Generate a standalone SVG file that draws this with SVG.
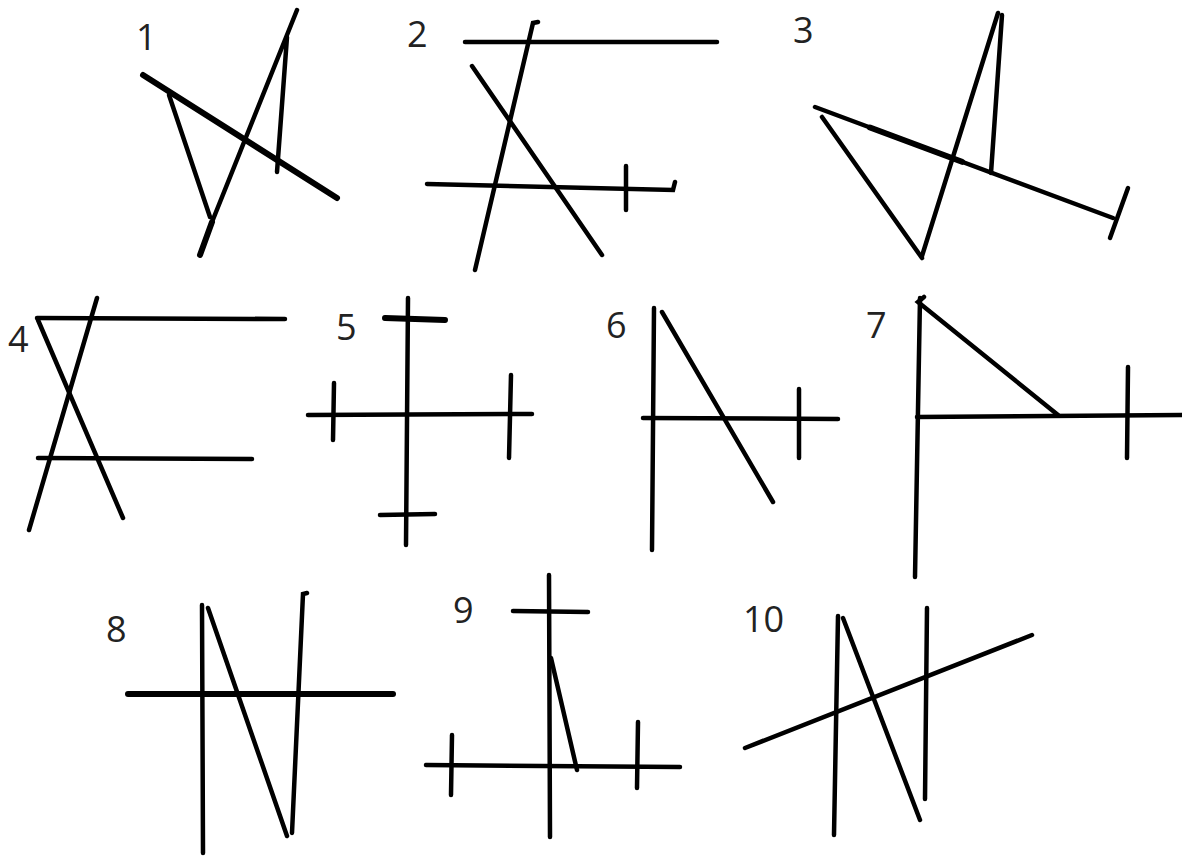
<svg xmlns="http://www.w3.org/2000/svg" width="1182" height="856" viewBox="0 0 1182 856">
<style>
.s{stroke:#000;stroke-width:4.5;stroke-linecap:round;fill:none}
.t{stroke-width:6}
.lbl{font-family:"Open Sans","Liberation Sans",sans-serif;font-size:36px;fill:#222}
</style>
<rect width="1182" height="856" fill="#fff"/>
<g id="fig1">
<text class="lbl" x="136" y="50">1</text>
<line class="s t" x1="143" y1="75" x2="337" y2="198"/>
<line class="s" x1="169" y1="95" x2="210" y2="217"/>
<line class="s" x1="297" y1="10" x2="212" y2="222"/>
<line class="s t" x1="212" y1="222" x2="200" y2="255"/>
<line class="s" x1="287" y1="37" x2="277" y2="172"/>
</g>
<g id="fig2">
<text class="lbl" x="407" y="47">2</text>
<line class="s" x1="465" y1="42" x2="717" y2="42"/>
<polyline class="s" points="538,22 533,23 475,270"/>
<line class="s" x1="472" y1="66" x2="602" y2="255"/>
<polyline class="s" points="427,184 673,190 675,182"/>
<line class="s" x1="626" y1="166" x2="626" y2="210"/>
</g>
<g id="fig3">
<text class="lbl" x="793" y="43">3</text>
<line class="s" x1="815" y1="107" x2="1113" y2="218"/>
<line class="s t" x1="870" y1="127.5" x2="962" y2="161.8"/>
<line class="s" x1="1128" y1="188" x2="1110" y2="238"/>
<line class="s" x1="822" y1="117" x2="922" y2="258"/>
<line class="s" x1="922" y1="256" x2="998" y2="13"/>
<line class="s" x1="1002" y1="15" x2="991" y2="173"/>
</g>
<g id="fig4">
<text class="lbl" x="8" y="352">4</text>
<line class="s" x1="37" y1="318" x2="285" y2="319"/>
<line class="s" x1="38" y1="320" x2="123" y2="518"/>
<line class="s" x1="97" y1="298" x2="29" y2="530"/>
<line class="s" x1="38" y1="458" x2="252" y2="459"/>
</g>
<g id="fig5">
<text class="lbl" x="336" y="340">5</text>
<line class="s" x1="408" y1="298" x2="406" y2="545"/>
<line class="s t" x1="385" y1="318" x2="445" y2="320"/>
<line class="s" x1="380" y1="515" x2="435" y2="514"/>
<line class="s" x1="308" y1="415" x2="532" y2="414"/>
<line class="s" x1="334" y1="383" x2="333" y2="440"/>
<line class="s" x1="511" y1="375" x2="509" y2="458"/>
</g>
<g id="fig6">
<text class="lbl" x="606" y="338">6</text>
<line class="s" x1="654" y1="308" x2="652" y2="550"/>
<line class="s" x1="662" y1="312" x2="773" y2="502"/>
<line class="s" x1="643" y1="418" x2="838" y2="419"/>
<line class="s" x1="799" y1="389" x2="799" y2="458"/>
</g>
<g id="fig7">
<text class="lbl" x="866" y="338">7</text>
<line class="s" x1="920" y1="298" x2="915" y2="577"/>
<polyline class="s" points="924,297 918,302 1058,415"/>
<line class="s" x1="917" y1="417" x2="1182" y2="415"/>
<line class="s" x1="1128" y1="367" x2="1127" y2="458"/>
</g>
<g id="fig8">
<text class="lbl" x="106" y="642">8</text>
<line class="s t" x1="128" y1="694" x2="393" y2="694"/>
<line class="s" x1="202" y1="605" x2="203" y2="853"/>
<line class="s" x1="208" y1="608" x2="287" y2="836"/>
<polyline class="s" points="307,593 303,594 292,833"/>
</g>
<g id="fig9">
<text class="lbl" x="453" y="623">9</text>
<line class="s" x1="549" y1="575" x2="550" y2="837"/>
<line class="s" x1="513" y1="611" x2="588" y2="612"/>
<line class="s" x1="551" y1="658" x2="577" y2="770"/>
<line class="s" x1="426" y1="765" x2="680" y2="767"/>
<line class="s" x1="452" y1="735" x2="451" y2="795"/>
<line class="s" x1="638" y1="722" x2="637" y2="788"/>
</g>
<g id="fig10">
<text class="lbl" x="743" y="632">10</text>
<line class="s" x1="745" y1="748" x2="1032" y2="635"/>
<line class="s" x1="838" y1="616" x2="834" y2="835"/>
<line class="s" x1="843" y1="618" x2="920" y2="820"/>
<line class="s" x1="927" y1="608" x2="925" y2="799"/>
</g>
</svg>
